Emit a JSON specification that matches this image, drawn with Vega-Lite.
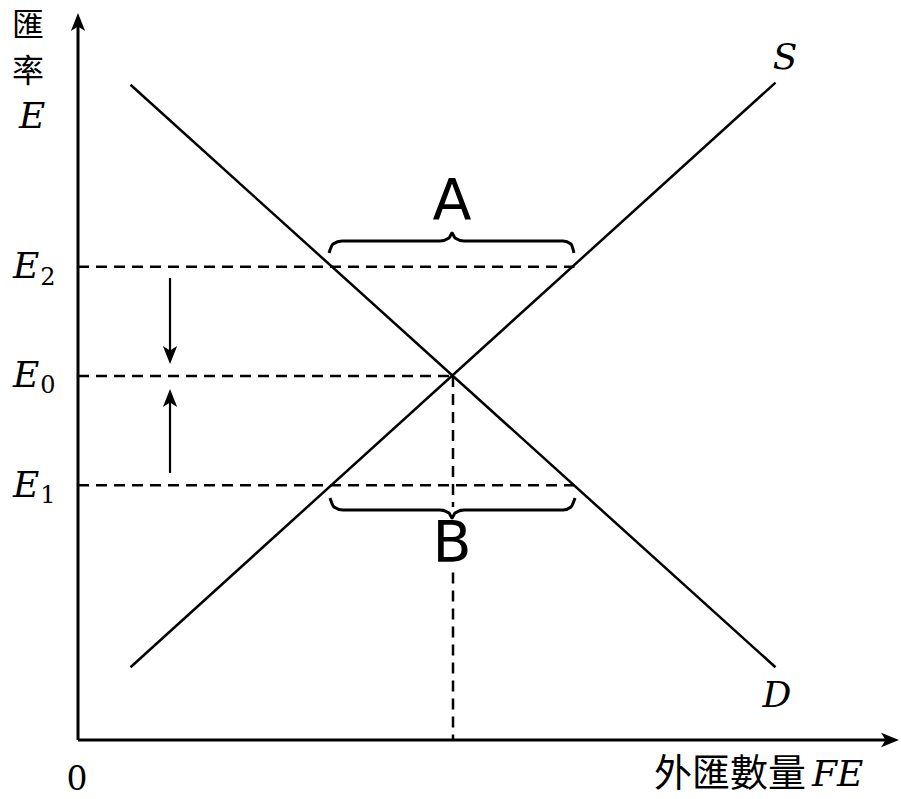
{
  "$schema": "https://vega.github.io/schema/vega-lite/v6.json",
  "width": 901,
  "height": 799,
  "autosize": {"type": "none"},
  "padding": 0,
  "background": "white",
  "config": {"view": {"stroke": null}},
  "datasets": {
    "axes": [
      {"x": 0, "y": 0, "x2": 0, "y2": 9.918},
      {"x": 0, "y": 0, "x2": 10.853, "y2": 0}
    ],
    "curves": [
      {"name": "D", "x": 0.7, "y": 9.0, "x2": 9.3, "y2": 1.0},
      {"name": "S", "x": 0.7, "y": 1.0, "x2": 9.3, "y2": 9.03}
    ],
    "dashed": [
      {"x": 0, "y": 6.5, "x2": 6.62, "y2": 6.5},
      {"x": 0, "y": 5, "x2": 5, "y2": 5},
      {"x": 0, "y": 3.5, "x2": 6.62, "y2": 3.5},
      {"x": 5, "y": 5, "x2": 5, "y2": 3.2},
      {"x": 5, "y": 2.3, "x2": 5, "y2": 0}
    ],
    "shafts": [
      {"x": 1.227, "y": 6.346, "x2": 1.227, "y2": 5.275},
      {"x": 1.227, "y": 3.668, "x2": 1.227, "y2": 4.712}
    ],
    "headUp": [
      {"x": 0, "y": 9.863},
      {"x": 1.227, "y": 4.698}
    ],
    "headRight": [
      {"x": 10.827, "y": 0}
    ],
    "headDown": [
      {"x": 1.227, "y": 5.288}
    ],
    "braces": [
      {"b": "A", "i": 0, "x": 3.347, "y": 6.690},
      {"b": "A", "i": 1, "x": 3.4, "y": 6.813},
      {"b": "A", "i": 2, "x": 3.52, "y": 6.854},
      {"b": "A", "i": 3, "x": 4.827, "y": 6.854},
      {"b": "A", "i": 4, "x": 4.947, "y": 6.896},
      {"b": "A", "i": 5, "x": 4.987, "y": 6.964},
      {"b": "A", "i": 6, "x": 5.027, "y": 6.896},
      {"b": "A", "i": 7, "x": 5.147, "y": 6.854},
      {"b": "A", "i": 8, "x": 6.467, "y": 6.854},
      {"b": "A", "i": 9, "x": 6.573, "y": 6.813},
      {"b": "A", "i": 10, "x": 6.613, "y": 6.690},
      {"b": "B", "i": 0, "x": 3.36, "y": 3.324},
      {"b": "B", "i": 1, "x": 3.413, "y": 3.201},
      {"b": "B", "i": 2, "x": 3.533, "y": 3.159},
      {"b": "B", "i": 3, "x": 4.827, "y": 3.159},
      {"b": "B", "i": 4, "x": 4.947, "y": 3.118},
      {"b": "B", "i": 5, "x": 4.987, "y": 3.049},
      {"b": "B", "i": 6, "x": 5.027, "y": 3.118},
      {"b": "B", "i": 7, "x": 5.147, "y": 3.159},
      {"b": "B", "i": 8, "x": 6.467, "y": 3.159},
      {"b": "B", "i": 9, "x": 6.573, "y": 3.201},
      {"b": "B", "i": 10, "x": 6.627, "y": 3.324}
    ],
    "sansLabels": [
      {"t": "A", "x": 4.987, "y": 7.376},
      {"t": "B", "x": 4.987, "y": 2.679}
    ],
    "italicLabels": [
      {"t": "S", "x": 9.427, "y": 9.368},
      {"t": "D", "x": 9.32, "y": 0.604},
      {"t": "E", "x": -0.613, "y": 8.558},
      {"t": "E", "x": -0.693, "y": 6.497},
      {"t": "E", "x": -0.693, "y": 5.0},
      {"t": "E", "x": -0.693, "y": 3.489}
    ],
    "subLabels": [
      {"t": "2", "x": -0.4, "y": 6.346},
      {"t": "0", "x": -0.4, "y": 4.863},
      {"t": "1", "x": -0.4, "y": 3.352}
    ],
    "originLabel": [
      {"t": "0", "x": -0.013, "y": -0.549}
    ],
    "cjkLabels": [
      {"t": "匯", "x": -0.667, "y": 9.808},
      {"t": "率", "x": -0.667, "y": 9.176}
    ],
    "xTitleCjk": [
      {"t": "外匯數量", "x": 9.707, "y": -0.481}
    ],
    "xTitleLatin": [
      {"t": "FE", "x": 9.787, "y": -0.481}
    ]
  },
  "encoding": {
    "x": {"field": "x", "type": "quantitative", "axis": null, "scale": {"domain": [-1.04, 10.9733], "nice": false, "zero": false}},
    "y": {"field": "y", "type": "quantitative", "axis": null, "scale": {"domain": [-0.8104, 10.1648], "nice": false, "zero": false}}
  },
  "layer": [
    {
      "data": {"name": "axes"},
      "mark": {"type": "rule", "color": "black", "strokeWidth": 3},
      "encoding": {"x2": {"field": "x2"}, "y2": {"field": "y2"}}
    },
    {
      "data": {"name": "curves"},
      "mark": {"type": "rule", "color": "black", "strokeWidth": 2.5},
      "encoding": {"x2": {"field": "x2"}, "y2": {"field": "y2"}}
    },
    {
      "data": {"name": "dashed"},
      "mark": {"type": "rule", "color": "black", "strokeWidth": 2.5, "strokeDash": [11, 7]},
      "encoding": {"x2": {"field": "x2"}, "y2": {"field": "y2"}}
    },
    {
      "data": {"name": "shafts"},
      "mark": {"type": "rule", "color": "black", "strokeWidth": 2.2},
      "encoding": {"x2": {"field": "x2"}, "y2": {"field": "y2"}}
    },
    {
      "data": {"name": "headUp"},
      "mark": {"type": "point", "shape": "M0,-1L0.8,1L0,0.5L-0.8,1Z", "filled": true, "color": "black", "opacity": 1, "size": 320}
    },
    {
      "data": {"name": "headRight"},
      "mark": {"type": "point", "shape": "M1,0L-1,0.8L-0.5,0L-1,-0.8Z", "filled": true, "color": "black", "opacity": 1, "size": 320}
    },
    {
      "data": {"name": "headDown"},
      "mark": {"type": "point", "shape": "M0,1L0.8,-1L0,-0.5L-0.8,-1Z", "filled": true, "color": "black", "opacity": 1, "size": 320}
    },
    {
      "data": {"name": "braces"},
      "mark": {"type": "line", "color": "black", "strokeWidth": 3, "interpolate": "monotone"},
      "encoding": {"detail": {"field": "b"}, "order": {"field": "i", "type": "quantitative"}}
    },
    {
      "data": {"name": "sansLabels"},
      "mark": {"type": "text", "font": "DejaVu Sans", "fontSize": 57, "baseline": "middle", "align": "center", "color": "black"},
      "encoding": {"text": {"field": "t"}}
    },
    {
      "data": {"name": "italicLabels"},
      "mark": {"type": "text", "font": "DejaVu Serif", "fontStyle": "italic", "fontSize": 36, "baseline": "middle", "align": "center", "color": "black"},
      "encoding": {"text": {"field": "t"}}
    },
    {
      "data": {"name": "subLabels"},
      "mark": {"type": "text", "font": "DejaVu Serif", "fontSize": 24, "baseline": "middle", "align": "center", "color": "black"},
      "encoding": {"text": {"field": "t"}}
    },
    {
      "data": {"name": "originLabel"},
      "mark": {"type": "text", "font": "DejaVu Serif", "fontSize": 33, "baseline": "middle", "align": "center", "color": "black"},
      "encoding": {"text": {"field": "t"}}
    },
    {
      "data": {"name": "cjkLabels"},
      "mark": {"type": "text", "font": "Noto Sans CJK TC", "fontSize": 32, "baseline": "middle", "align": "center", "color": "black"},
      "encoding": {"text": {"field": "t"}}
    },
    {
      "data": {"name": "xTitleCjk"},
      "mark": {"type": "text", "font": "Noto Sans CJK TC", "fontSize": 38, "baseline": "middle", "align": "right", "color": "black"},
      "encoding": {"text": {"field": "t"}}
    },
    {
      "data": {"name": "xTitleLatin"},
      "mark": {"type": "text", "font": "DejaVu Serif", "fontStyle": "italic", "fontSize": 36, "baseline": "middle", "align": "left", "color": "black"},
      "encoding": {"text": {"field": "t"}}
    }
  ]
}
